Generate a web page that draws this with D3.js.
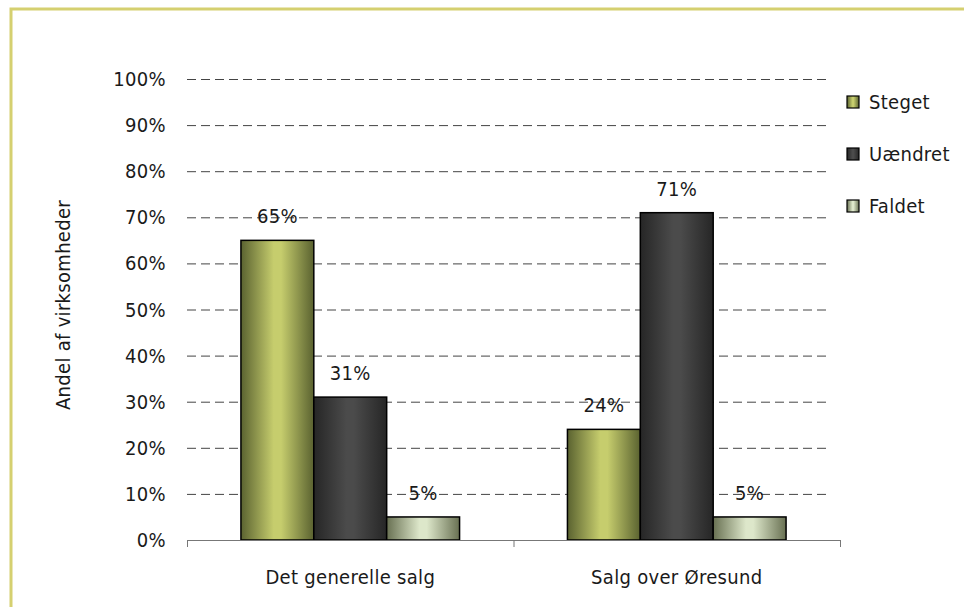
<!DOCTYPE html>
<html>
<head>
<meta charset="utf-8">
<script src="https://cdn.jsdelivr.net/npm/d3@7"></script>
<style>
  body { margin: 0; background: #fff; }
  svg text { font-family: "DejaVu Sans Condensed", "DejaVu Sans", sans-serif; fill: #1a1a1a; letter-spacing: 0.3px; }
</style>
</head>
<body>
<div id="graph"></div>
<script>
"use-strict";

// chart data
const categories = ["Det generelle salg", "Salg over Øresund"];
const seriesNames = ["Steget", "Uændret", "Faldet"];
const steget = [65, 24];
const uaendret = [31, 71];
const faldet = [5, 5];
const yTicks = [0, 10, 20, 30, 40, 50, 60, 70, 80, 90, 100];

const width = 964,
      height = 607;

const plot = { left: 187, right: 840, top: 79, bottom: 540 };
const fontSize = "20px";

window.onload = function () {
    let svg = d3.select("#graph")
        .append("svg")
        .attr("width", width)
        .attr("height", height);

    // gradients for the bars
    let defs = svg.append("defs");
    const grads = [
        { id: "g0", edge: "#5a6230", mid: "#c6cd6d" },
        { id: "g1", edge: "#262626", mid: "#4b4b4b" },
        { id: "g2", edge: "#687052", mid: "#dde7ca" }
    ];
    grads.forEach(g => {
        let lg = defs.append("linearGradient")
            .attr("id", g.id)
            .attr("x1", "0%").attr("x2", "100%")
            .attr("y1", "0%").attr("y2", "0%");
        lg.append("stop").attr("offset", "0%").attr("stop-color", g.edge);
        lg.append("stop").attr("offset", "45%").attr("stop-color", g.mid);
        lg.append("stop").attr("offset", "55%").attr("stop-color", g.mid);
        lg.append("stop").attr("offset", "100%").attr("stop-color", g.edge);
    });

    // frame (open to the right and bottom)
    svg.append("path")
        .attr("d", "M11," + height + " L11,9 L" + width + ",9")
        .attr("fill", "none")
        .attr("stroke", "#d5d070")
        .attr("stroke-width", 3);

    let x0 = d3.scaleBand()
        .domain(categories)
        .range([plot.left, plot.right])
        .paddingInner(0)
        .paddingOuter(0);

    let x1 = d3.scaleBand()
        .domain(seriesNames)
        .range([0, x0.bandwidth()])
        .paddingInner(0)
        .paddingOuter(0.74);

    let y = d3.scaleLinear()
        .domain([0, 100])
        .range([plot.bottom, plot.top]);

    // gridlines
    svg.append("g")
        .selectAll("line")
        .data(yTicks.filter(d => d > 0))
        .enter()
        .append("line")
        .attr("x1", plot.left)
        .attr("x2", plot.right - 10)
        .attr("y1", d => y(d) + 0.5)
        .attr("y2", d => y(d) + 0.5)
        .attr("stroke", "#444")
        .attr("stroke-width", 1)
        .attr("stroke-dasharray", "9,5");

    // y tick labels
    svg.append("g")
        .selectAll("text")
        .data(yTicks)
        .enter()
        .append("text")
        .attr("x", 166)
        .attr("y", d => y(d))
        .attr("dy", "0.35em")
        .attr("text-anchor", "end")
        .style("font-size", fontSize)
        .text(d => d + "%");

    // bars
    let rows = seriesNames.map((s, i) => ({ name: s, values: [steget, uaendret, faldet][i] }));

    let groups = svg.append("g")
        .selectAll("g")
        .data(categories)
        .enter()
        .append("g")
        .attr("transform", d => "translate(" + x0(d) + ",0)");

    groups.selectAll("rect")
        .data((c, ci) => rows.map((r, si) => ({ name: r.name, idx: si, value: r.values[ci] })))
        .enter()
        .append("rect")
        .attr("x", d => x1(d.name))
        .attr("y", d => y(d.value))
        .attr("width", x1.bandwidth())
        .attr("height", d => y(0) - y(d.value))
        .attr("fill", d => "url(#g" + d.idx + ")")
        .attr("stroke", "#000")
        .attr("stroke-width", 1.5);

    groups.selectAll("text")
        .data((c, ci) => rows.map((r, si) => ({ name: r.name, value: r.values[ci] })))
        .enter()
        .append("text")
        .attr("x", d => x1(d.name) + x1.bandwidth() / 2)
        .attr("y", d => y(d.value) - 24)
        .attr("dy", "0.35em")
        .attr("text-anchor", "middle")
        .style("font-size", fontSize)
        .text(d => d.value + "%");

    // x axis
    let xAxis = svg.append("g")
        .attr("transform", "translate(0," + plot.bottom + ")");
    xAxis.append("line")
        .attr("x1", plot.left).attr("x2", plot.right)
        .attr("y1", 0.5).attr("y2", 0.5)
        .attr("stroke", "#777");
    xAxis.selectAll(".tick")
        .data([plot.left, plot.left + x0.bandwidth(), plot.right])
        .enter()
        .append("line")
        .attr("x1", d => d + 0.5).attr("x2", d => d + 0.5)
        .attr("y1", 0).attr("y2", 7)
        .attr("stroke", "#777");
    xAxis.selectAll("text")
        .data(categories)
        .enter()
        .append("text")
        .attr("x", d => x0(d) + x0.bandwidth() / 2)
        .attr("y", 37)
        .attr("dy", "0.35em")
        .attr("text-anchor", "middle")
        .style("font-size", fontSize)
        .text(d => d);

    // y axis title
    svg.append("text")
        .attr("transform", "translate(63,305) rotate(-90)")
        .attr("dy", "0.35em")
        .attr("text-anchor", "middle")
        .style("font-size", fontSize)
        .text("Andel af virksomheder");

    // legend
    let legend = svg.append("g")
        .selectAll("g")
        .data(seriesNames)
        .enter()
        .append("g")
        .attr("transform", (d, i) => "translate(847," + (102 + i * 52) + ")");
    legend.append("rect")
        .attr("x", 0).attr("y", -6)
        .attr("width", 12).attr("height", 12)
        .attr("fill", (d, i) => "url(#g" + i + ")")
        .attr("stroke", "#000")
        .attr("stroke-width", 1.2);
    legend.append("text")
        .attr("x", 22)
        .attr("dy", "0.35em")
        .style("font-size", fontSize)
        .text(d => d);
}
</script>
</body>
</html>
